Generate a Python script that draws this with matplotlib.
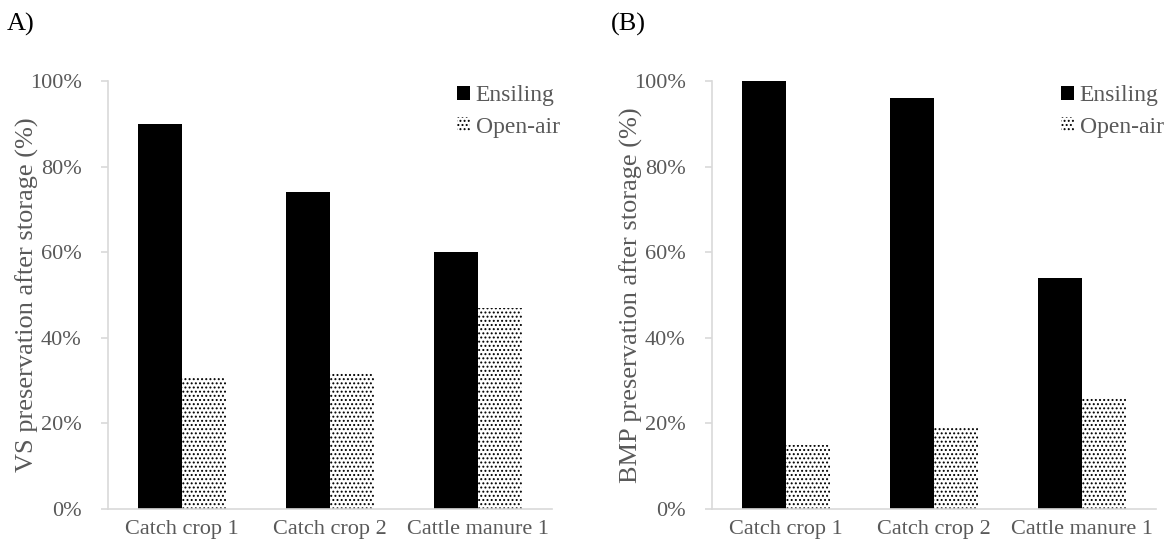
import numpy as np
import matplotlib.pyplot as plt
from matplotlib.ticker import PercentFormatter

plt.rcParams['font.family'] = ['Liberation Serif', 'DejaVu Serif']
plt.rcParams['hatch.linewidth'] = 0.9

categories = ['Catch crop 1', 'Catch crop 2', 'Cattle manure 1']
vs_ensiling = [90, 74, 60]
vs_openair = [31, 32, 47]
bmp_ensiling = [100, 96, 54]
bmp_openair = [15, 19, 26]

grey = '#595959'
spine = '#d9d9d9'

fig = plt.figure(figsize=(11.72, 5.5), dpi=100)
ax1 = fig.add_axes([0.0922, 0.0745, 0.3788, 0.778])
ax2 = fig.add_axes([0.6075, 0.0745, 0.3788, 0.778])

x = np.arange(len(categories))
w = 0.297


def draw(ax, ens, opn, ylabel):
    ax.bar(x - w / 2, ens, w, color='black', label='Ensiling')
    ax.bar(x + w / 2, opn, w, color='white', edgecolor='black', linewidth=0,
           hatch='....', label='Open-air')
    ax.set_xlim(-0.5, 2.5)
    ax.set_ylim(0, 100)
    ax.set_yticks(np.arange(0, 101, 20))
    ax.yaxis.set_major_formatter(PercentFormatter(decimals=0))
    ax.set_xticks(x)
    ax.set_xticklabels(categories)
    for s in ['top', 'right']:
        ax.spines[s].set_visible(False)
    for s in ['left', 'bottom']:
        ax.spines[s].set_color(spine)
        ax.spines[s].set_linewidth(1.2)
    ax.tick_params(axis='y', colors=grey, labelsize=16, length=5, width=1.2,
                   color=spine, pad=14)
    ax.tick_params(axis='x', colors=grey, labelsize=16, length=0, pad=8)
    ax.set_ylabel(ylabel, fontsize=19, color=grey)
    ax.yaxis.set_label_coords(-0.155, 0.5)
    leg = ax.legend(loc='upper right', bbox_to_anchor=(1.065, 1.04), frameon=False,
                    fontsize=17, handlelength=0.55, handleheight=0.55,
                    handletextpad=0.25, labelspacing=0.45)
    for t in leg.get_texts():
        t.set_color(grey)


draw(ax1, vs_ensiling, vs_openair, 'VS preservation after storage (%)')
draw(ax2, bmp_ensiling, bmp_openair, 'BMP preservation after storage (%)')

fig.text(0.006, 0.945, 'A)', fontsize=19)
fig.text(0.521, 0.945, '(B)', fontsize=19)

fig.savefig('out.png', dpi=100)
